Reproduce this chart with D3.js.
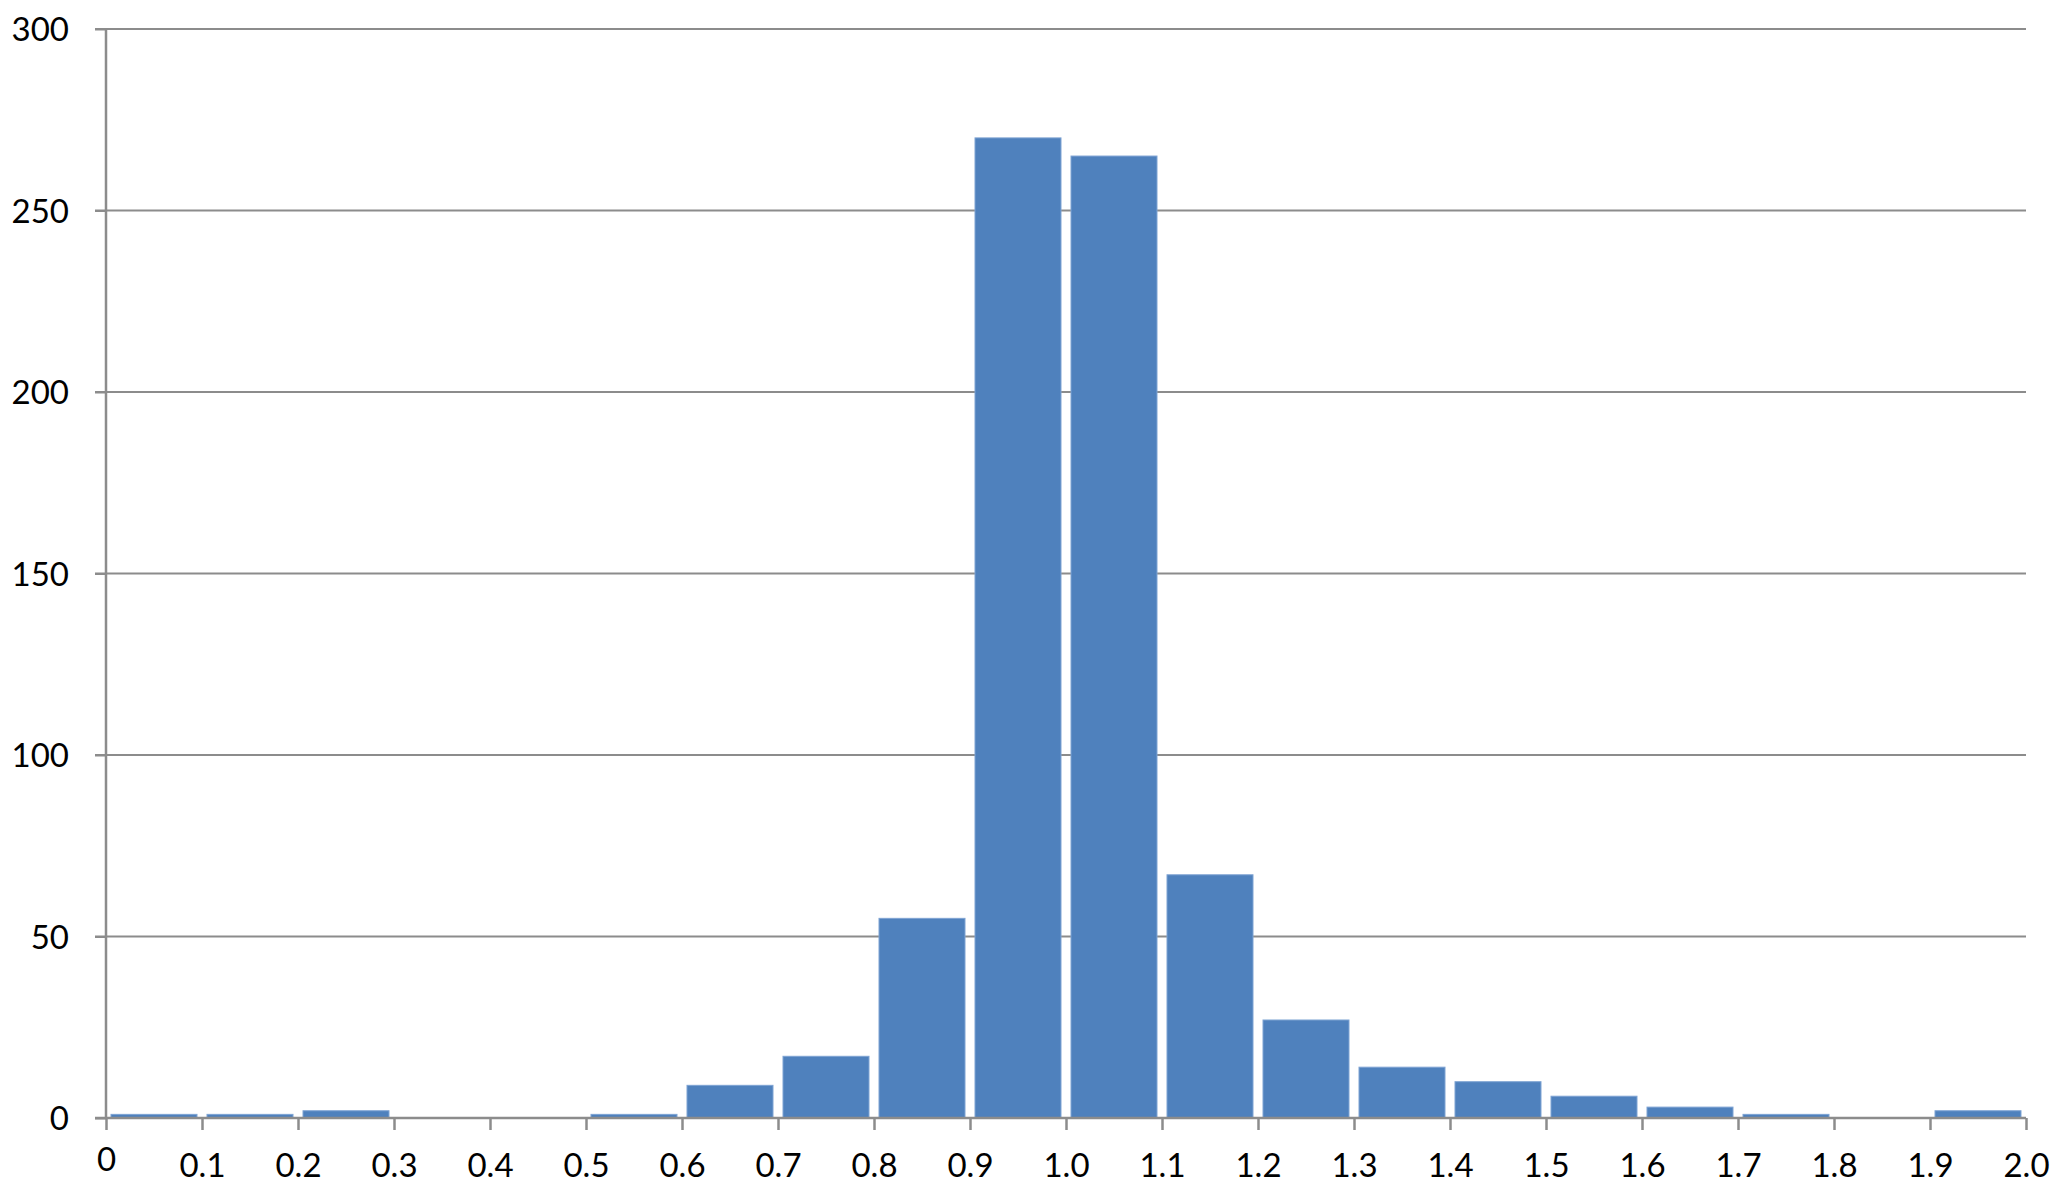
<!DOCTYPE html>
<html>
<head>
<meta charset="utf-8">
<script src="https://cdn.jsdelivr.net/npm/d3@7"></script>
<style>
  html, body { margin: 0; padding: 0; background: #fff; }
  svg text { font-family: Lato, "Open Sans", sans-serif; fill: #000; }
</style>
</head>
<body>
<svg id="chart" width="2067" height="1194"></svg>
<script>
// Data
const binStarts = [0.0, 0.1, 0.2, 0.3, 0.4, 0.5, 0.6, 0.7, 0.8, 0.9, 1.0, 1.1, 1.2, 1.3, 1.4, 1.5, 1.6, 1.7, 1.8, 1.9];
const counts    = [1, 1, 2, 0, 0, 1, 9, 17, 55, 270, 265, 67, 27, 14, 10, 6, 3, 1, 0, 2];
const binWidth = 0.1;
const xTickValues = [0, 0.1, 0.2, 0.3, 0.4, 0.5, 0.6, 0.7, 0.8, 0.9, 1.0, 1.1, 1.2, 1.3, 1.4, 1.5, 1.6, 1.7, 1.8, 1.9, 2.0];
const xTickLabels = ["0", "0.1", "0.2", "0.3", "0.4", "0.5", "0.6", "0.7", "0.8", "0.9", "1.0", "1.1", "1.2", "1.3", "1.4", "1.5", "1.6", "1.7", "1.8", "1.9", "2.0"];
const yTickValues = [0, 50, 100, 150, 200, 250, 300];

const W = 2067, H = 1194;
const margin = { top: 29, right: 41, bottom: 76, left: 106 };
const svg = d3.select("#chart");

const x = d3.scaleLinear().domain([0, 2]).range([margin.left, W - margin.right]);
const y = d3.scaleLinear().domain([0, 300]).range([H - margin.bottom, margin.top]);

const gridColor = "#8c8c8c";
const barColor = "#4f81bd";

// Gridlines
svg.append("g")
  .selectAll("line")
  .data(yTickValues.filter(v => v > 0))
  .join("line")
  .attr("x1", x(0) - 11)
  .attr("x2", x(2))
  .attr("y1", d => y(d))
  .attr("y2", d => y(d))
  .attr("stroke", gridColor)
  .attr("stroke-width", 2);

// Bars
const inset = 5;
svg.append("g")
  .selectAll("rect")
  .data(binStarts.map((b, i) => ({ b, v: counts[i] })).filter(d => d.v > 0))
  .join("rect")
  .attr("x", d => x(d.b) + inset)
  .attr("width", d => x(d.b + binWidth) - x(d.b) - 2 * inset)
  .attr("y", d => y(d.v))
  .attr("height", d => y(0) - y(d.v))
  .attr("fill", barColor)
  .attr("stroke", "#7ea3d3")
  .attr("stroke-width", 1);

// Y axis
const yAxis = d3.axisLeft(y)
  .tickValues(yTickValues)
  .tickSize(11)
  .tickPadding(26)
  .tickFormat(d3.format("d"));
const gy = svg.append("g")
  .attr("transform", `translate(${x(0)},0)`)
  .call(yAxis);
gy.select(".domain").attr("stroke", gridColor).attr("stroke-width", 2.5).attr("d", `M0,${y(300)}V${y(0)}`);
gy.selectAll(".tick line").attr("stroke", gridColor).attr("stroke-width", 2);
gy.selectAll(".tick text").style("font-size", "33px").attr("dy", "0.36em");

// X axis
const xAxis = d3.axisBottom(x)
  .tickValues(xTickValues)
  .tickSize(12)
  .tickPadding(24)
  .tickFormat((d, i) => xTickLabels[i]);
const gx = svg.append("g")
  .attr("transform", `translate(0,${y(0)})`)
  .call(xAxis);
gx.select(".domain").attr("stroke", gridColor).attr("stroke-width", 2.5).attr("d", `M${x(0) - 11},0H${x(2)}`);
gx.selectAll(".tick line").attr("stroke", gridColor).attr("stroke-width", 2.5);
gx.selectAll(".tick text").style("font-size", "33px")
  .attr("dy", (d, i) => i === 0 ? "0.5em" : "0.71em");
</script>
</body>
</html>
